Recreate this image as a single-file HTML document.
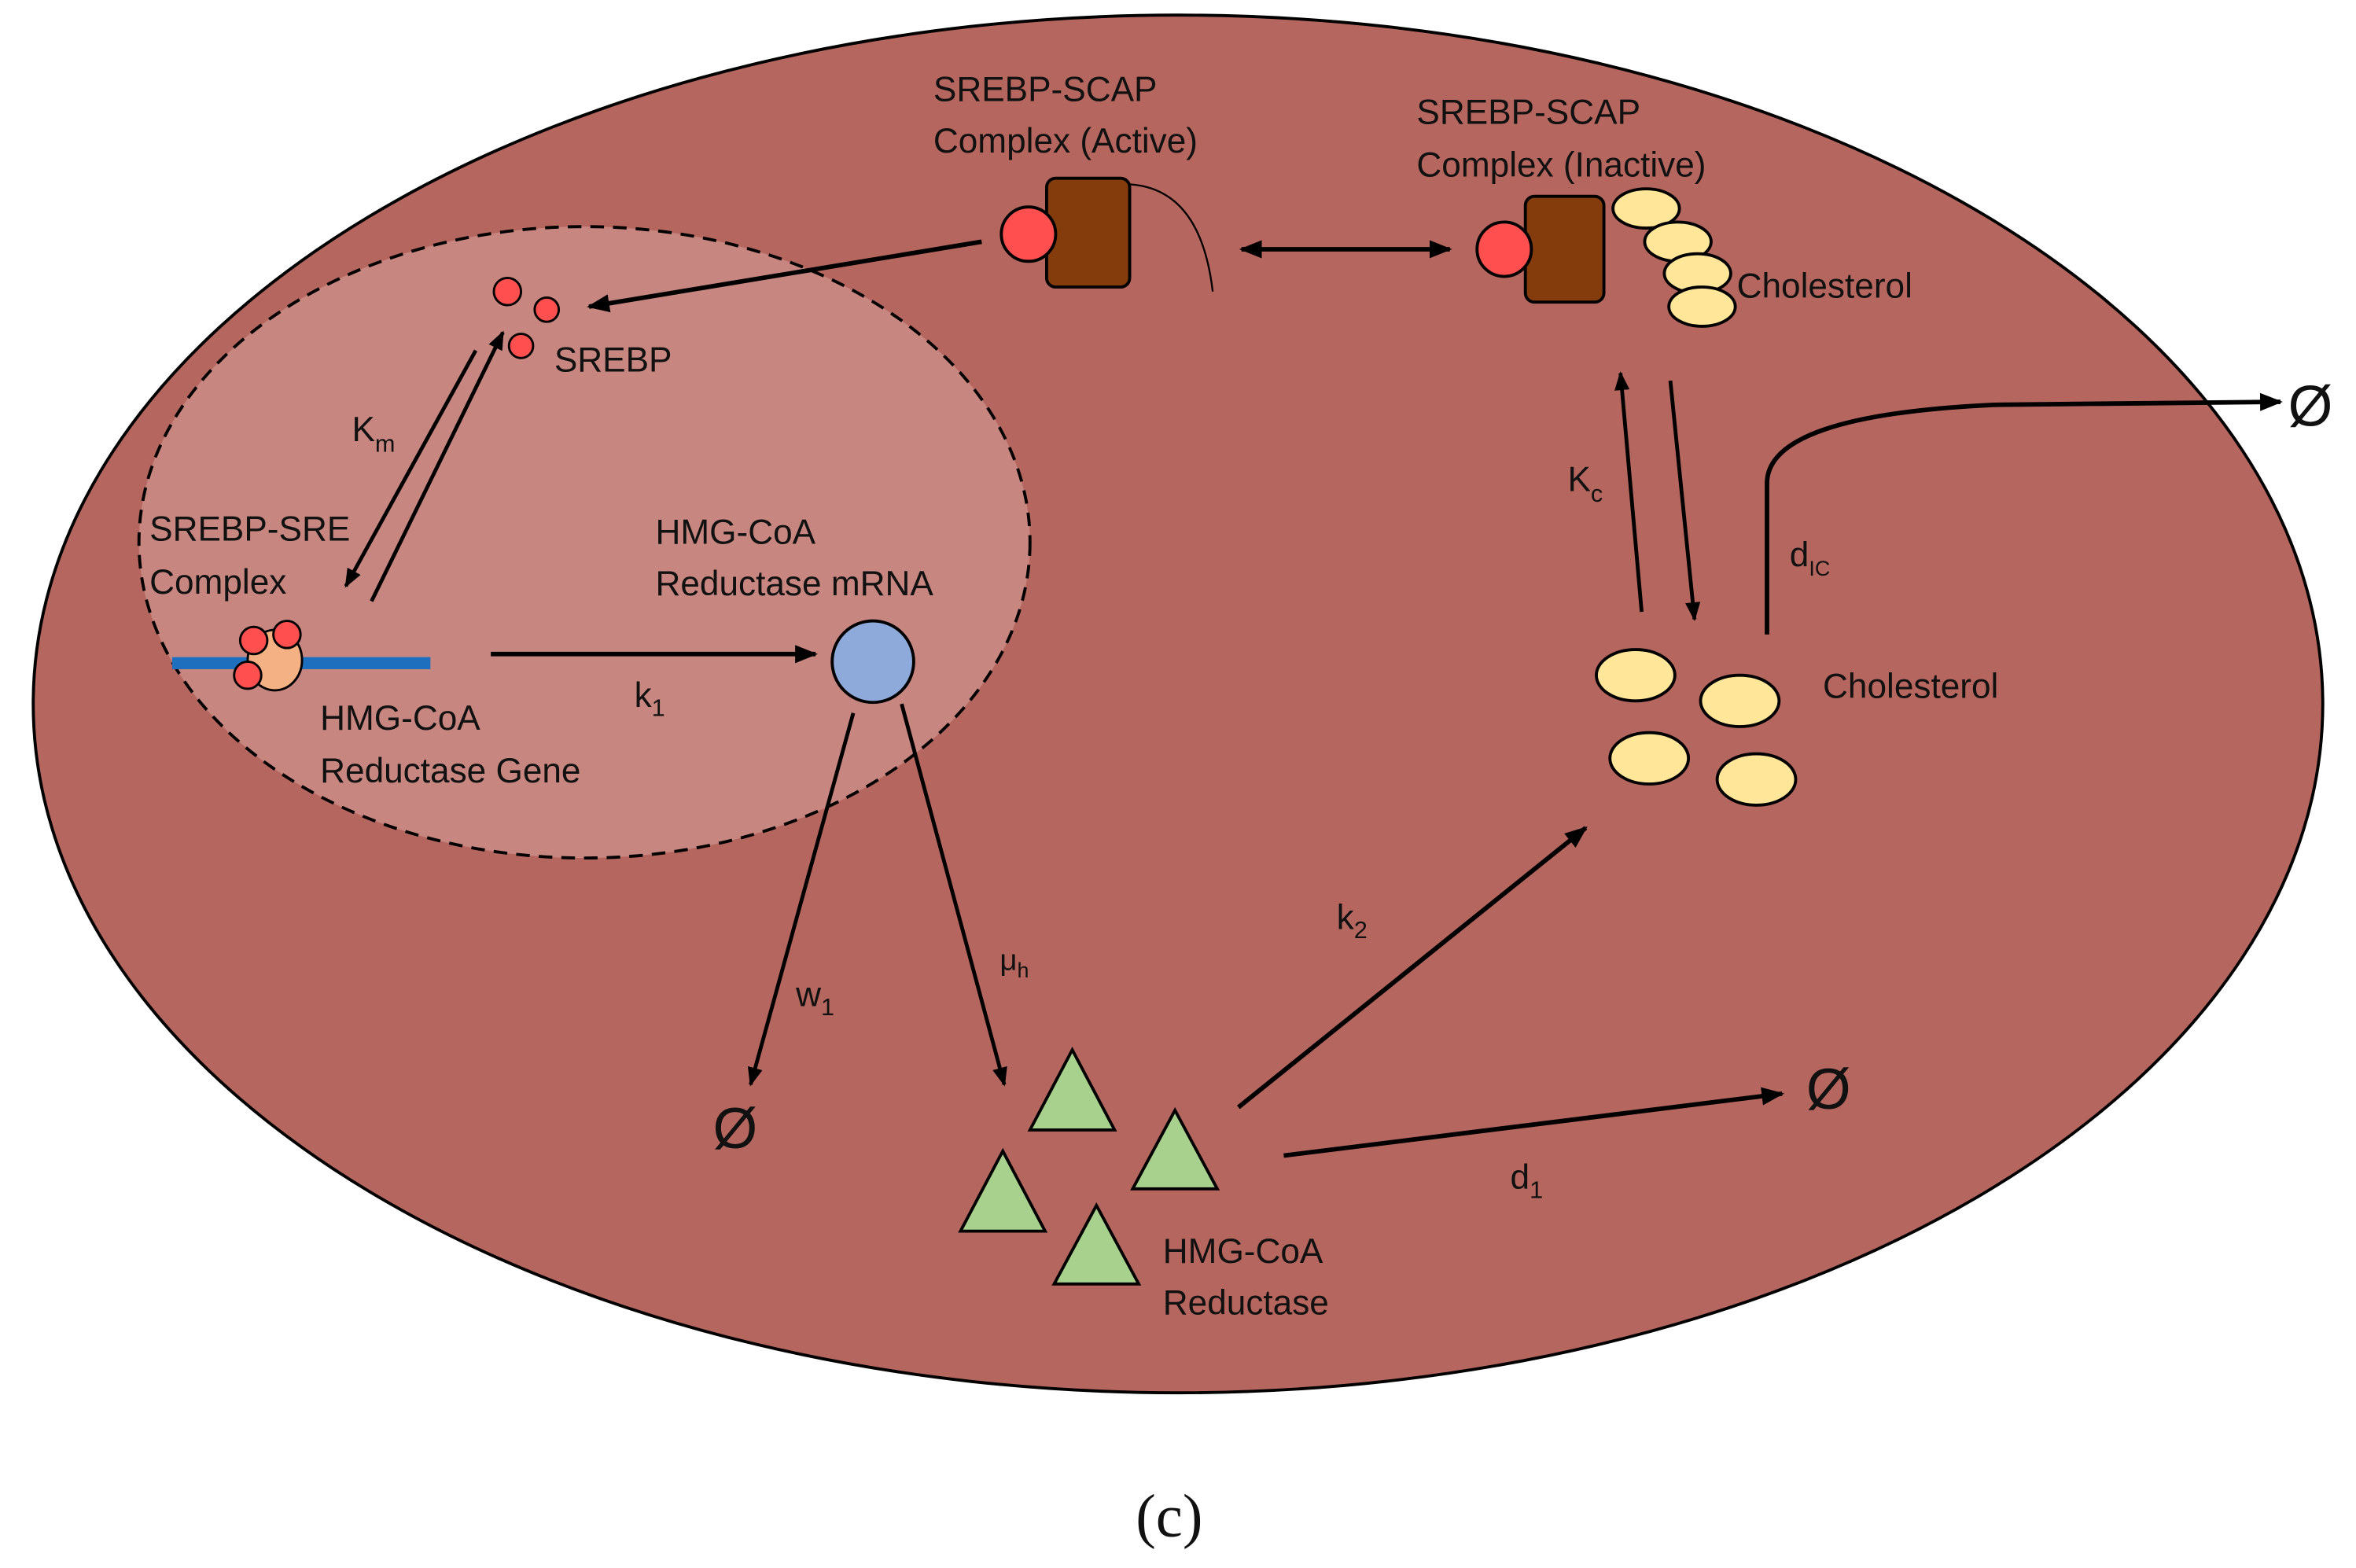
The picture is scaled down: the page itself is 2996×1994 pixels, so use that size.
<!DOCTYPE html>
<html><head><meta charset="utf-8"><style>
html,body{margin:0;padding:0;background:#fff;}
svg{display:block;}
text{font-family:"Liberation Sans",sans-serif;fill:#111;}
</style></head><body>
<svg width="2996" height="1994" viewBox="0 0 1560 1038" preserveAspectRatio="none" xmlns="http://www.w3.org/2000/svg" font-size="23">
<defs>
<marker id="a" viewBox="0 0 10 10" refX="9" refY="5" markerWidth="5" markerHeight="5" orient="auto-start-reverse" markerUnits="strokeWidth">
<path d="M0,1 L10,5 L0,9 z" fill="#000"/></marker>
</defs>
<rect width="1560" height="1038" fill="#fff"/>
<ellipse cx="780" cy="466" rx="758" ry="456" fill="#b5665e" stroke="#000" stroke-width="2"/>
<ellipse cx="387" cy="359" rx="295" ry="209" fill="#c78680" stroke="#000" stroke-width="2" stroke-dasharray="9,6"/>

<text x="618" y="67">SREBP-SCAP</text>
<text x="618" y="101">Complex (Active)</text>
<path d="M748,122 Q795,125 803,193" fill="none" stroke="#000" stroke-width="1.2"/>
<rect x="693" y="118" width="55" height="72" rx="6" fill="#843c0c" stroke="#000" stroke-width="2"/>
<circle cx="681" cy="155" r="18" fill="#ff4f4f" stroke="#000" stroke-width="2"/>
<line x1="650" y1="160" x2="390" y2="203" stroke="#000" stroke-width="3" marker-end="url(#a)"/>

<circle cx="336" cy="193" r="9" fill="#ff4f4f" stroke="#000" stroke-width="1.5"/>
<circle cx="362" cy="205" r="8" fill="#ff4f4f" stroke="#000" stroke-width="1.5"/>
<circle cx="345" cy="229" r="8" fill="#ff4f4f" stroke="#000" stroke-width="1.5"/>
<text x="367" y="246">SREBP</text>
<line x1="315" y1="232" x2="229" y2="388" stroke="#000" stroke-width="2.5" marker-end="url(#a)"/>
<line x1="246" y1="398" x2="333" y2="220" stroke="#000" stroke-width="2.5" marker-end="url(#a)"/>
<text x="233" y="292">K<tspan font-size="16" dy="7">m</tspan></text>
<text x="99" y="358">SREBP-SRE</text>
<text x="99" y="393">Complex</text>

<line x1="114" y1="439" x2="285" y2="439" stroke="#1f6fbf" stroke-width="8"/>
<ellipse cx="182" cy="437" rx="18" ry="20" fill="#f4b183" stroke="#000" stroke-width="1.5"/>
<circle cx="168" cy="424" r="9" fill="#ff4f4f" stroke="#000" stroke-width="1.5"/>
<circle cx="190" cy="420" r="9" fill="#ff4f4f" stroke="#000" stroke-width="1.5"/>
<circle cx="164" cy="447" r="9" fill="#ff4f4f" stroke="#000" stroke-width="1.5"/>
<text x="212" y="483">HMG-CoA</text>
<text x="212" y="518">Reductase Gene</text>
<line x1="325" y1="433" x2="540" y2="433" stroke="#000" stroke-width="3" marker-end="url(#a)"/>
<text x="420" y="468">k<tspan font-size="16" dy="6">1</tspan></text>

<circle cx="578" cy="438" r="27" fill="#8eaadb" stroke="#000" stroke-width="2"/>
<text x="434" y="360">HMG-CoA</text>
<text x="434" y="394">Reductase mRNA</text>
<line x1="565" y1="472" x2="497" y2="718" stroke="#000" stroke-width="2.5" marker-end="url(#a)"/>
<text x="527" y="666">w<tspan font-size="16" dy="6">1</tspan></text>
<text x="472" y="760" font-size="38">Ø</text>
<line x1="597" y1="466" x2="665" y2="718" stroke="#000" stroke-width="2.5" marker-end="url(#a)"/>
<text x="662" y="642" font-size="20">μ<tspan font-size="14" dy="5">h</tspan></text>

<g fill="#a9d18e" stroke="#000" stroke-width="2">
<polygon points="710,695 738,748 682,748"/>
<polygon points="778,735 806,787 750,787"/>
<polygon points="664,762 692,815 636,815"/>
<polygon points="726,798 754,850 698,850"/>
</g>
<text x="770" y="836">HMG-CoA</text>
<text x="770" y="870">Reductase</text>
<line x1="820" y1="733" x2="1050" y2="548" stroke="#000" stroke-width="3" marker-end="url(#a)"/>
<text x="885" y="615">k<tspan font-size="16" dy="6">2</tspan></text>
<line x1="850" y1="765" x2="1180" y2="724" stroke="#000" stroke-width="3" marker-end="url(#a)"/>
<text x="1196" y="734" font-size="38">Ø</text>
<text x="1000" y="787">d<tspan font-size="16" dy="6">1</tspan></text>

<line x1="822" y1="165" x2="960" y2="165" stroke="#000" stroke-width="3" marker-start="url(#a)" marker-end="url(#a)"/>

<text x="938" y="82">SREBP-SCAP</text>
<text x="938" y="117">Complex (Inactive)</text>
<rect x="1010" y="130" width="52" height="70" rx="6" fill="#843c0c" stroke="#000" stroke-width="2"/>
<circle cx="996" cy="165" r="18" fill="#ff4f4f" stroke="#000" stroke-width="2"/>
<g fill="#ffe699" stroke="#000" stroke-width="2">
<ellipse cx="1090" cy="138" rx="22" ry="13"/>
<ellipse cx="1111" cy="160" rx="22" ry="13"/>
<ellipse cx="1124" cy="181" rx="22" ry="13"/>
<ellipse cx="1127" cy="203" rx="22" ry="13"/>
</g>
<text x="1150" y="197">Cholesterol</text>

<line x1="1087" y1="405" x2="1073" y2="247" stroke="#000" stroke-width="2.5" marker-end="url(#a)"/>
<line x1="1106" y1="252" x2="1122" y2="410" stroke="#000" stroke-width="2.5" marker-end="url(#a)"/>
<text x="1038" y="325">K<tspan font-size="16" dy="7">c</tspan></text>

<g fill="#ffe699" stroke="#000" stroke-width="2">
<ellipse cx="1083" cy="447" rx="26" ry="17"/>
<ellipse cx="1152" cy="464" rx="26" ry="17"/>
<ellipse cx="1092" cy="502" rx="26" ry="17"/>
<ellipse cx="1163" cy="516" rx="26" ry="17"/>
</g>
<text x="1207" y="462">Cholesterol</text>
<path d="M1170,420 L1170,320 Q1170,275 1320,268 L1510,266" fill="none" stroke="#000" stroke-width="3" marker-end="url(#a)"/>
<text x="1515" y="282" font-size="38">Ø</text>
<text x="1185" y="375">d<tspan font-size="14" dy="6">IC</tspan></text>

<text x="752" y="1017" font-size="40" style="font-family:'Liberation Serif',serif">(c)</text>
</svg>
</body></html>
